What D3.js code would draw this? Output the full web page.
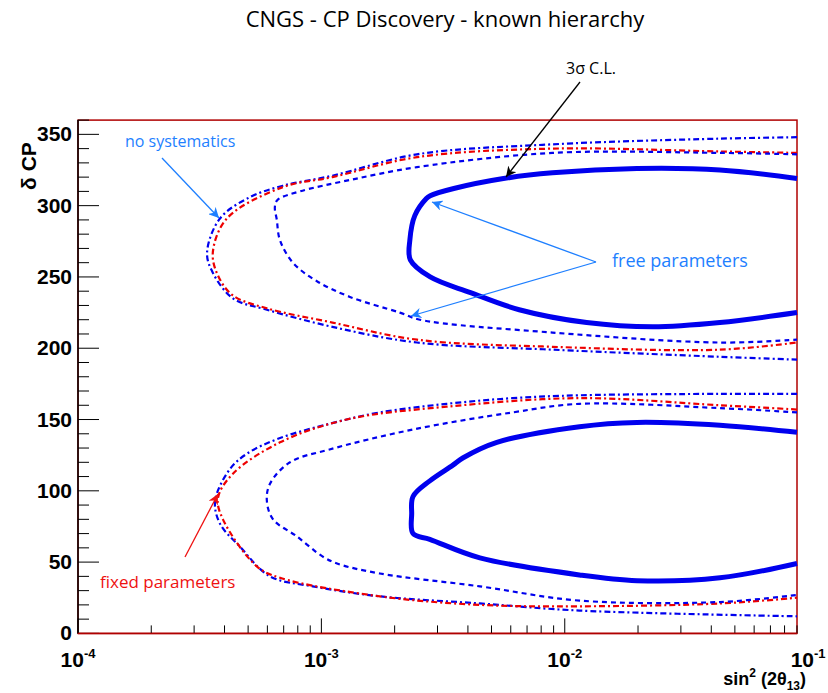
<!DOCTYPE html>
<html><head><meta charset="utf-8">
<script src="https://cdn.jsdelivr.net/npm/d3@7"></script>
<style>body{margin:0;background:#fff}text{font-family:Helvetica,"Liberation Sans",Arial,sans-serif}</style>
</head><body>
<svg id="chart" width="828" height="693"></svg>
<script>
// contours: [sin^2(2theta13), deltaCP]
var outerUpper = [[0.09,348],[0.0434,347],[0.0089,343],[0.00247,336],[0.00111,321],[0.000695,314],[0.000509,306],[0.000383,291],[0.000339,267],[0.000358,253],[0.000433,235],[0.000597,227],[0.00111,215],[0.00247,204],[0.0089,199],[0.0434,194],[0.09,192]];
var redUpper = [[0.09,337],[0.0434,338],[0.0089,340],[0.00247,334],[0.00111,320],[0.000695,313],[0.000409,291],[0.000358,267],[0.000376,251],[0.000433,237],[0.000597,228],[0.00111,218],[0.00247,206],[0.0089,201],[0.0434,199],[0.09,204]];
var innerUpper = [[0.09,336],[0.0434,337],[0.0089,337],[0.00247,327],[0.00131,318],[0.000816,310],[0.00066,304],[0.000644,299],[0.000656,290],[0.000675,276],[0.000764,260],[0.000959,247],[0.00131,236],[0.0021,225],[0.00254,220],[0.0089,211],[0.0434,204],[0.09,206]];
var thickUpper = [[0.09,319],[0.0434,325],[0.0198,326],[0.0089,323],[0.0056,319],[0.0035,312],[0.0028,307],[0.0027,305],[0.00242,293],[0.00231,276],[0.00232,262],[0.0028,250],[0.0041,239],[0.0065,227],[0.0123,218],[0.023,215],[0.0434,218],[0.09,225]];

var outerLower = [[0.09,168],[0.0434,168],[0.0115,167],[0.00611,165],[0.00327,161],[0.00174,155],[0.00108,147],[0.000676,137],[0.000494,126],[0.00042,115],[0.000366,93],[0.000383,77],[0.000462,61],[0.000615,40],[0.000922,33],[0.00174,26],[0.00448,21],[0.0115,16],[0.09,12]];
var redLower = [[0.09,157],[0.0434,160],[0.0115,165],[0.00327,159],[0.00127,150],[0.000676,134],[0.000433,112],[0.000376,95],[0.000394,80],[0.000543,47],[0.000676,39],[0.00174,26],[0.00448,20],[0.0115,19],[0.0434,21],[0.09,25]];
var innerLower = [[0.09,155],[0.0434,158],[0.0115,161],[0.00611,155],[0.00238,143],[0.00108,129],[0.000743,120],[0.000615,105],[0.000597,93],[0.000633,80],[0.000793,68],[0.00101,54],[0.00116,49],[0.00174,42],[0.00448,33],[0.0115,23],[0.0434,22],[0.09,27]];
var thickLower = [[0.09,141],[0.0434,146],[0.0198,148],[0.0115,145],[0.00526,134],[0.00381,123],[0.00347,118],[0.00279,107],[0.00238,96],[0.00235,84],[0.00238,70],[0.00279,66],[0.00448,53],[0.0115,41],[0.0198,37],[0.0434,39],[0.09,49]];

var yTicks = [0,50,100,150,200,250,300,350];
var xDecades = [-4,-3,-2,-1];

var svg = d3.select("#chart");
var x = d3.scaleLog().domain([1e-4, 0.09]).range([78, 797]);
var y = d3.scaleLinear().domain([0, 360]).range([633.4, 120.1]);

var line = d3.line().x(function(d){return x(d[0]);}).y(function(d){return y(d[1]);}).curve(d3.curveMonotoneY);
var lineSmooth = d3.line().x(function(d){return x(d[0]);}).y(function(d){return y(d[1]);}).curve(d3.curveCatmullRom.alpha(0.5));

// frame
svg.append("rect").attr("x",78).attr("y",y(360)).attr("width",x(0.09)-78).attr("height",y(0)-y(360))
  .attr("fill","none").attr("stroke","#b00000").attr("stroke-width",1.5);

// y ticks
var yMinor = d3.range(0,361,10);
svg.append("g").selectAll("line").data(yMinor).enter().append("line")
  .attr("x1",78).attr("x2",function(d){return d%50==0 ? 99 : 89;})
  .attr("y1",function(d){return y(d);}).attr("y2",function(d){return y(d);})
  .attr("stroke","#000").attr("stroke-width",1);
svg.append("g").selectAll("text").data(yTicks).enter().append("text")
  .attr("x",72).attr("y",function(d){return y(d)+7;}).attr("text-anchor","end")
  .attr("font-size",21).attr("font-weight","bold").text(function(d){return d;});

// x ticks
var xMinor = [];
[-4,-3,-2].forEach(function(e){ for(var k=1;k<10;k++){ var v=k*Math.pow(10,e); if(v<=0.09) xMinor.push(v);} });
svg.append("g").selectAll("line").data(xMinor).enter().append("line")
  .attr("x1",function(d){return x(d);}).attr("x2",function(d){return x(d);})
  .attr("y1",y(0)).attr("y2",function(d){return Math.abs(Math.log10(d)-Math.round(Math.log10(d)))<1e-6 ? y(0)-15 : y(0)-8;})
  .attr("stroke","#000").attr("stroke-width",1);
var xl = svg.append("g").selectAll("text").data(xDecades).enter().append("text")
  .attr("x",function(d){return x(Math.pow(10,d));}).attr("y",667)
  .attr("text-anchor","middle").attr("font-size",21).attr("font-weight","bold");
xl.append("tspan").text("10");
xl.append("tspan").attr("dy",-9).attr("font-size",13).text(function(d){return d;});

// axis lines
svg.append("line").attr("x1",78).attr("x2",78).attr("y1",y(0)).attr("y2",y(360)).attr("stroke","#000").attr("stroke-width",1.5);
svg.append("line").attr("x1",78).attr("x2",x(0.09)).attr("y1",y(0)).attr("y2",y(0)).attr("stroke","#b00000").attr("stroke-width",1.5);

// contours
function curve(data, color, dash, w){
  svg.append("path").datum(data).attr("d",lineSmooth).attr("fill","none")
    .attr("stroke",color).attr("stroke-width",w).attr("stroke-dasharray",dash);
}
curve(outerUpper,"#0000ee","6,3,2,3",2.2); curve(outerLower,"#0000ee","6,3,2,3",2.2);
curve(redUpper,"#ee0000","6,3,2,3",2.2); curve(redLower,"#ee0000","6,3,2,3",2.2);
curve(innerUpper,"#0000ee","5,4",2.2); curve(innerLower,"#0000ee","5,4",2.2);
curve(thickUpper,"#0000ee",null,5); curve(thickLower,"#0000ee",null,5);

// titles
svg.append("text").attr("x",445).attr("y",27).attr("text-anchor","middle").attr("font-size",22)
  .style("font-family","'Open Sans',sans-serif").text("CNGS - CP Discovery - known hierarchy");
svg.append("text").attr("transform","translate(36,166) rotate(-90)").attr("text-anchor","middle")
  .attr("font-size",21).attr("font-weight","bold").text("δ CP");
var xt = svg.append("text").attr("x",806).attr("y",685).attr("text-anchor","end").attr("font-size",18).attr("font-weight","bold");
xt.append("tspan").text("sin");
xt.append("tspan").attr("dy",-8).attr("font-size",12).text("2");
xt.append("tspan").attr("dy",8).text(" (2θ");
xt.append("tspan").attr("dy",5).attr("font-size",12).text("13");
xt.append("tspan").attr("dy",-5).text(")");

// annotations
var defs = svg.append("defs");
function marker(id,color){
  defs.append("marker").attr("id",id).attr("viewBox","0 0 10 10").attr("refX",10).attr("refY",5)
    .attr("markerWidth",8).attr("markerHeight",8).attr("orient","auto")
    .append("path").attr("d","M0,0 L10,5 L0,10 L3,5 Z").attr("fill",color);
}
marker("ab","#000"); marker("al","#1e7fff"); marker("ar","#ee1111");
function arrow(x1,y1,x2,y2,color,m){
  svg.append("line").attr("x1",x1).attr("y1",y1).attr("x2",x2).attr("y2",y2)
    .attr("stroke",color).attr("stroke-width",1.3).attr("marker-end","url(#"+m+")");
}
function label(tx,ty,t,color,fs){
  svg.append("text").attr("x",tx).attr("y",ty).attr("font-size",fs).attr("fill",color)
    .style("font-family","'Open Sans',sans-serif").text(t);
}
label(566,74,"3σ C.L.","#000",16); arrow(580,82,506,177,"#000","ab");
label(125,147,"no systematics","#1e7fff",16); arrow(162,158,219,218,"#1e7fff","al");
label(612,267,"free parameters","#1e7fff",18);
arrow(596,262,432,202,"#1e7fff","al"); arrow(596,262,411,316,"#1e7fff","al");
label(100,588,"fixed parameters","#ee1111",17); arrow(185,557,218,494,"#ee1111","ar");
</script>
</body></html>
